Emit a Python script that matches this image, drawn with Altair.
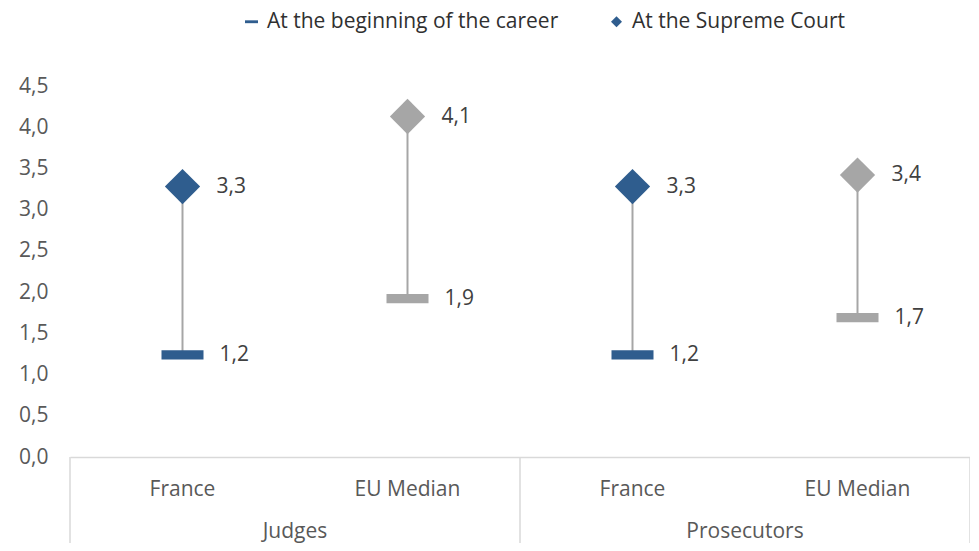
import altair as alt
import pandas as pd

groups = ["Judges", "Judges", "Prosecutors", "Prosecutors"]
countries = ["France", "EU Median", "France", "EU Median"]
start_vals = [1.24, 1.92, 1.24, 1.69]
supreme_vals = [3.28, 4.13, 3.28, 3.42]
series_names = ["At the beginning of the career", "At the Supreme Court"]
y_ticks = [0, 0.5, 1, 1.5, 2, 2.5, 3, 3.5, 4, 4.5]

BLUE = "#2F5D8E"
GRAY = "#A6A6A6"
FONT = "Open Sans"
H = 371
W = 900

wide = pd.DataFrame({
    "pos": [i + 0.5 for i in range(len(countries))],
    "group": groups,
    "country": countries,
    "start": start_vals,
    "supreme": supreme_vals,
})

rows = []
for i in range(len(countries)):
    rows.append({"pos": i + 0.5, "country": countries[i], "series": series_names[0], "value": start_vals[i]})
    rows.append({"pos": i + 0.5, "country": countries[i], "series": series_names[1], "value": supreme_vals[i]})
long = pd.DataFrame(rows)

grp_names = []
grp_centers = []
for g in dict.fromkeys(groups):
    idx = [i for i, x in enumerate(groups) if x == g]
    grp_names.append(g)
    grp_centers.append((min(idx) + max(idx) + 1) / 2)
grp_df = pd.DataFrame({"group": grp_names, "center": grp_centers})
bounds = [0] + [i + 1 for i in range(len(groups)) if i == len(groups) - 1 or groups[i] != groups[i + 1]]
bounds_df = pd.DataFrame({"b": bounds})

xscale = alt.Scale(domain=[0, len(countries)], nice=False, zero=False)
yscale = alt.Scale(domain=[0, 4.5], nice=False)
fmt = "replace(format(datum.value,'.1f'),'.',',')"

x_enc = alt.X("pos:Q", scale=xscale,
              axis=alt.Axis(labels=False, ticks=False, grid=False, domainColor="#D9D9D9",
                            domainWidth=1.5, title=None))
y_enc = alt.Y("value:Q", scale=yscale,
              axis=alt.Axis(values=y_ticks, labelExpr=fmt, grid=False, domain=False, ticks=False,
                            labelPadding=22, labelFontSize=21, labelFont=FONT, labelColor="#595959",
                            title=None))

rules = alt.Chart(wide).mark_rule(color=GRAY, strokeWidth=2).encode(
    x=alt.X("pos:Q", scale=xscale),
    y=alt.Y("start:Q", scale=yscale),
    y2="supreme:Q",
)

points = alt.Chart(long).mark_point(filled=True, opacity=1, strokeWidth=0, size=1764).encode(
    x=x_enc,
    y=y_enc,
    shape=alt.Shape("series:N",
                    scale=alt.Scale(domain=series_names,
                                    range=["M-1,-0.22H1V0.22H-1Z",
                                           "M0,-0.84L0.84,0L0,0.84L-0.84,0Z"]),
                    legend=alt.Legend(orient="none", legendX=171, legendY=-75, direction="horizontal",
                                      title=None, labelFontSize=21, labelFont=FONT, labelColor="#303030",
                                      labelLimit=600, columnPadding=47, labelOffset=5,
                                      symbolSize=170, symbolFillColor=BLUE, symbolStrokeWidth=0)),
    color=alt.Color("country:N", scale=alt.Scale(domain=["France", "EU Median"], range=[BLUE, GRAY]),
                    legend=None),
)

lbl = alt.Chart(long).transform_calculate(lbl=fmt)
text_start = lbl.transform_filter(alt.datum.series == series_names[0]).mark_text(
    align="left", baseline="middle", dx=37, fontSize=21, font=FONT, color="#404040"
).encode(x=alt.X("pos:Q", scale=xscale), y=alt.Y("value:Q", scale=yscale), text="lbl:N")
text_top = lbl.transform_filter(alt.datum.series == series_names[1]).mark_text(
    align="left", baseline="middle", dx=34, fontSize=21, font=FONT, color="#404040"
).encode(x=alt.X("pos:Q", scale=xscale), y=alt.Y("value:Q", scale=yscale), text="lbl:N")

seps = alt.Chart(bounds_df).mark_rule(color="#D9D9D9", strokeWidth=1.5).encode(
    x=alt.X("b:Q", scale=xscale), y=alt.value(H), y2=alt.value(H + 86)
)
cat_labels = alt.Chart(wide).mark_text(baseline="middle", fontSize=21, font=FONT, color="#595959").encode(
    x=alt.X("pos:Q", scale=xscale), y=alt.value(H + 33), text="country:N"
)
grp_labels = alt.Chart(grp_df).mark_text(baseline="middle", fontSize=21, font=FONT, color="#595959").encode(
    x=alt.X("center:Q", scale=xscale), y=alt.value(H + 75), text="group:N"
)

chart = alt.layer(rules, points, text_start, text_top, seps, cat_labels, grp_labels).properties(
    width=W, height=H,
    autosize=alt.AutoSizeParams(type="none"),
    padding={"left": 62, "top": 78, "right": 0, "bottom": 86},
).configure_view(stroke=None)

chart.save("out.html", embed_options={"renderer": "svg", "actions": False})
